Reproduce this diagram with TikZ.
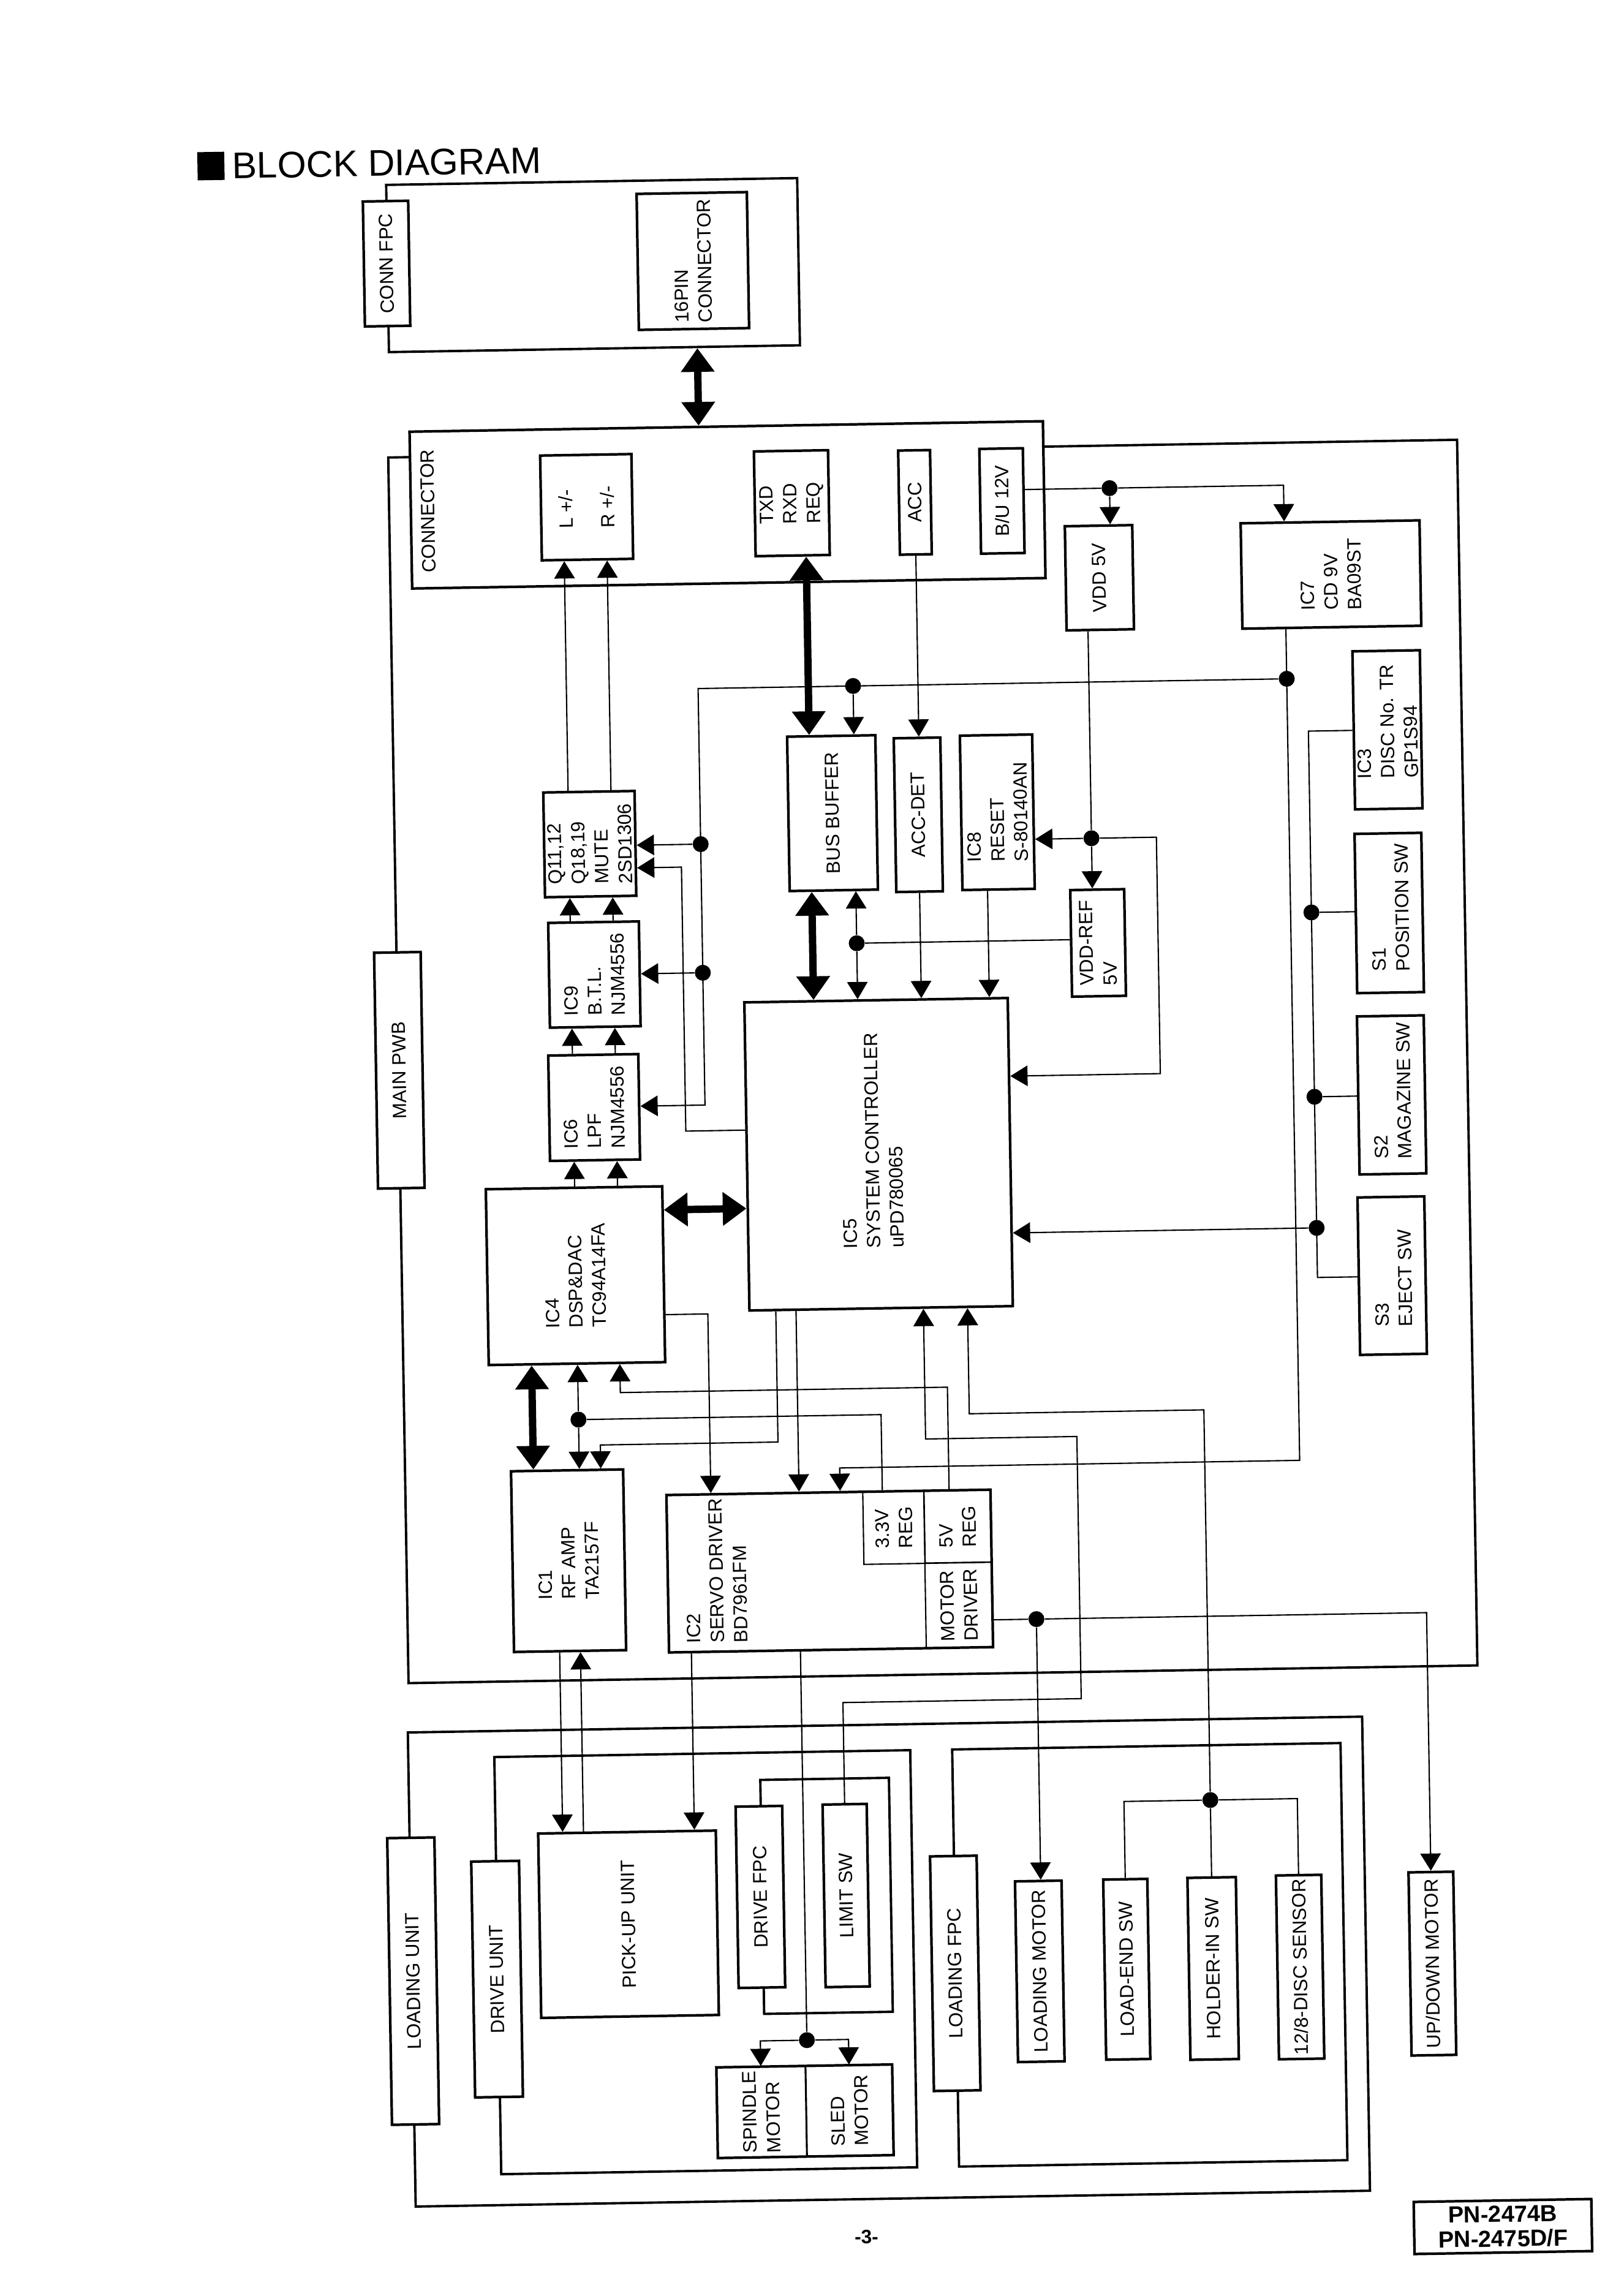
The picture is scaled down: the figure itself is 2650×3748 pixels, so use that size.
\documentclass[tikz,border=0pt]{standalone}
\usepackage{fontspec}
\setmainfont{Liberation Sans}
\usetikzlibrary{arrows.meta}
\newcommand{\boxfont}{\fontsize{8.9pt}{10.9pt}\selectfont}
\tikzset{
	outline/.style 2 args={draw, line width=1.1pt, inner sep=0pt, minimum width=#1*0.01cm, minimum height=#2*0.01cm},
	blk/.style 2 args={draw, fill=white, line width=1.2pt, rotate=90, align=left, inner sep=0pt, minimum width=#2*0.01cm, minimum height=#1*0.01cm},
	cell/.style={fill=none, line width=0.6pt},
	txt/.style={rotate=90, align=left, inner sep=0pt},
	jct/.style={circle, fill=black, inner sep=0pt, minimum size=7.4pt},
	wire/.style={line width=0.6pt},
	sig/.style={line width=0.6pt, -{Triangle[length=8pt,width=9.5pt]}},
	thickbus/.style={line width=3.4pt, {Triangle[length=11pt,width=15pt]}-{Triangle[length=11pt,width=15pt]}}
}
\begin{document}
\begin{tikzpicture}[x=0.01cm, y=-0.01cm, every node/.style={font=\boxfont}]
	\useasboundingbox (0,0) rectangle (2650,3748);
	\begin{scope}[transform canvas={rotate around={0.95:(1325,1874)}}]
		% Draw title
		\node[fill=black, inner sep=0pt, minimum width=44*0.01cm, minimum height=46*0.01cm] (titlemark) at (371,255) {};
		\node[anchor=west, inner sep=0pt, font=\fontsize{17.2pt}{20pt}\selectfont] (title) at (405,255) {BLOCK DIAGRAM};

		% Draw outer frames
		\node[outline={671}{273}] (head) at (992,427) {};
		\node[outline={1745}{2001}] (pwb) at (1525,1736) {};
		\node[outline={1558}{774}] (loadunit) at (1429,3204) {};
		\node[outline={679}{681}] (driveunit) at (1130,3200) {};
		\node[outline={634}{681}] (loadfpc) at (1855,3200) {};
		\node[outline={210}{382}] (fpcloop) at (1329,3095) {};

		% Draw top blocks
		\node[blk={74}{204}] (connfpc) at (655,419) {CONN FPC};
		\node[blk={180}{222}] (pin16) at (1155,423) {16PIN\\CONNECTOR};
		\node[blk={1034}{256}] (conn) at (1205,822) {};
		\node[txt] (conntext) at (716,824) {CONNECTOR};
		\node[blk={149}{171}] (lrout) at (975,822) {L +/-\\[8.4pt]R +/-};
		\node[blk={121}{171}] (serial) at (1310,821) {TXD\\RXD\\REQ};
		\node[blk={52}{170}] (acc) at (1511,823) {ACC};
		\node[blk={71}{171}] (bu) at (1653,823) {B/U 12V};
		\node[blk={110}{170}] (vdd) at (1810,951) {VDD 5V};
		\node[blk={292}{172}] (ic7) at (2188,952) {IC7\\CD 9V\\BA09ST};

		% Draw switches
		\node[blk={110}{258}] (ic3) at (2276,1207) {};
		\node[txt, anchor=west] (ic3text) at (2276,1287) {IC3\\DISC No. TR\\GP1S94};
		\node[blk={109}{260}] (s1) at (2274,1506) {};
		\node[txt, anchor=west] (s1text) at (2276,1602) {S1\\POSITION SW};
		\node[blk={109}{258}] (s2) at (2273,1803) {};
		\node[txt, anchor=west] (s2text) at (2274,1908) {S2\\MAGAZINE SW};
		\node[blk={109}{257}] (s3) at (2269,2098) {};
		\node[txt, anchor=west] (s3text) at (2271,2182) {S3\\EJECT SW};

		% Draw main board blocks
		\node[blk={76}{385}] (mainpwb) at (654,1736) {MAIN PWB};
		\node[blk={144}{252}] (busbuf) at (1368,1328) {BUS BUFFER};
		\node[blk={76}{251}] (accdet) at (1508,1333) {ACC-DET};
		\node[blk={118}{252}] (ic8) at (1637,1331) {IC8\\RESET\\S-80140AN};
		\node[blk={88}{174}] (vddref) at (1798,1547) {VDD-REF\\5V};
		\node[blk={149}{171}] (q) at (971,1372) {Q11,12\\Q18,19\\MUTE\\2SD1306};
		\node[blk={148}{171}] (ic9) at (975,1585) {IC9\\B.T.L.\\NJM4556};
		\node[blk={147}{172}] (ic6) at (971,1802) {IC6\\LPF\\NJM4556};
		\node[blk={288}{287}] (ic4) at (936,2076) {IC4\\DSP\&DAC\\TC94A14FA};
		\node[blk={430}{503}] (ic5) at (1434,1886) {};
		\node[txt, anchor=west] (ic5text) at (1424,2040) {IC5\\SYSTEM CONTROLLER\\uPD780065};
		\node[blk={183}{295}] (ic1) at (917,2541) {IC1\\RF AMP\\TA2157F};
		\node[blk={529}{257}] (ic2) at (1343,2565) {};
		\node[txt, anchor=west] (ic2text) at (1158,2680) {IC2\\SERVO DRIVER\\BD7961FM};
		\node[blk={100}{118}, cell] (reg33) at (1449,2496) {3.3V\\REG};
		\node[blk={109}{118}, cell] (reg5) at (1553,2496) {5V\\REG};
		\node[blk={109}{139}, cell] (motdrv) at (1553,2624) {MOTOR\\DRIVER};

		% Draw bottom blocks
		\node[blk={77}{468}] (loadingunit) at (652,3223) {LOADING UNIT};
		\node[blk={78}{385}] (driveunitbox) at (789,3222) {DRIVE UNIT};
		\node[blk={290}{301}] (pickup) at (1005,3136) {PICK-UP UNIT};
		\node[blk={76}{296}] (drivefpc) at (1221,3095) {DRIVE FPC};
		\node[blk={72}{298}] (limitsw) at (1361,3095) {LIMIT SW};
		\node[blk={287}{148}] (motors) at (1288,3446) {};
		\node[blk={145}{148}, cell] (spindle) at (1217,3446) {SPINDLE\\MOTOR};
		\node[blk={141}{148}, cell] (sled) at (1361,3446) {SLED\\MOTOR};
		\node[blk={76}{383}] (loadingfpc) at (1537,3225) {LOADING FPC};
		\node[blk={76}{295}] (loadingmotor) at (1675,3224) {LOADING MOTOR};
		\node[blk={72}{294}] (loadend) at (1817,3223) {LOAD-END SW};
		\node[blk={79}{297}] (holderin) at (1958,3224) {HOLDER-IN SW};
		\node[blk={74}{300}] (disc) at (2100,3224) {12/8-DISC SENSOR};
		\node[blk={73}{299}] (updown) at (2316,3222) {UP/DOWN MOTOR};

		% Draw junctions
		\node[jct] (jbu) at (1829,805) {};
		\node[jct] (jic7) at (2113,1121) {};
		\node[jct] (jbus) at (1405,1121) {};
		\node[jct] (jq) at (1152,1375) {};
		\node[jct] (jic9) at (1152,1585) {};
		\node[jct] (jvdd) at (1790,1376) {};
		\node[jct] (jref) at (1404,1541) {};
		\node[jct] (js1) at (2147,1503) {};
		\node[jct] (js2) at (2147,1804) {};
		\node[jct] (js3) at (2147,2018) {};
		\node[jct] (jic4) at (937,2311) {};
		\node[jct] (jmot) at (1679,2649) {};
		\node[jct] (jhold) at (1958,2949) {};
		\node[jct] (jmotor) at (1293,3330) {};

		% Draw thick buses
		\draw[thickbus] (1160,0 |- head.south) -- (1160,0 |- conn.east);
		\draw[thickbus] (1332,0 |- serial.west) -- (1332,0 |- busbuf.east);
		\draw[thickbus] (1332,0 |- busbuf.west) -- (1332,0 |- ic5.east);
		\draw[thickbus] (ic4.south |- 0,1971) -- (ic5.north |- 0,1971);
		\draw[thickbus] (862,0 |- ic1.east) -- (862,0 |- ic4.west);

		% Draw audio path
		\draw[sig] (937,0 |- ic4.east) -- (937,0 |- ic6.west);
		\draw[sig] (1007,0 |- ic4.east) -- (1007,0 |- ic6.west);
		\draw[sig] (937,0 |- ic6.east) -- (937,0 |- ic9.west);
		\draw[sig] (1007,0 |- ic6.east) -- (1007,0 |- ic9.west);
		\draw[sig] (937,0 |- ic9.east) -- (937,0 |- q.west);
		\draw[sig] (1007,0 |- ic9.east) -- (1007,0 |- q.west);
		\draw[sig] (937,0 |- q.east) -- (937,0 |- lrout.west);
		\draw[sig] (1007,0 |- q.east) -- (1007,0 |- lrout.west);

		% Draw power and control lines
		\draw[wire] (bu.south |- jbu) -- (jbu);
		\draw[sig] (jbu) -- (jbu |- vdd.east);
		\draw[sig] (jbu) -| (jic7 |- ic7.east);
		\draw[sig] (jic7 |- ic7.west) |- (1362,2397) -- (1362,0 |- ic2.east);
		\draw[sig] (jic7) -- (jq |- jic7) -- (1152,1801) -- (ic6.south |- 0,1801);
		\draw[sig] (jbus) -- (jbus |- busbuf.east);
		\draw[sig] (jq) -- (jq -| q.south);
		\draw[sig] (jic9) -- (jic9 -| ic9.south);
		\draw[sig] (ic5.north |- 0,1843) -| (1120,1412) -- (q.south |- 0,1412);
		\draw[sig] (jref) -- (jref |- busbuf.west);
		\draw[sig] (jref) -- (jref |- ic5.east);
		\draw[wire] (jref) -- (jref -| vddref.north);
		\draw[sig] (acc.west) -- (acc.west |- accdet.east);
		\draw[sig] (accdet.west) -- (accdet.west |- ic5.east);
		\draw[sig] (1619,0 |- ic8.west) -- (1619,0 |- ic5.east);
		\draw[wire] (jvdd |- vdd.west) -- (jvdd);
		\draw[sig] (jvdd) -- (jvdd -| ic8.south);
		\draw[sig] (jvdd) -- (jvdd |- vddref.east);
		\draw[sig] (jvdd) -| (1896,1762) -- (ic5.south |- 0,1762);

		% Draw switch lines
		\draw[wire] (ic3.north) -- (js1 |- ic3.north) -- (js1 |- 0,2099) -- (s3.north |- 0,2099);
		\draw[wire] (js1) -- (js1 -| s1.north);
		\draw[wire] (js2) -- (js2 -| s2.north);
		\draw[sig] (js3) -- (js3 -| ic5.south);

		% Draw servo lines
		\draw[sig] (jic4) -- (jic4 |- ic4.west);
		\draw[sig] (jic4) -- (jic4 |- ic1.east);
		\draw[wire] (jic4) -| (1431,0 |- ic2.east);
		\draw[sig] (1540,0 |- ic2.east) |- (1006,2268) -- (1006,0 |- ic4.west);
		\draw[sig] (1262,0 |- ic5.west) |- (972,2353) -- (972,0 |- ic1.east);
		\draw[sig] (1295,0 |- ic5.west) -- (1295,0 |- ic2.east);
		\draw[sig] (ic4.south |- 0,2142) -| (1151,0 |- ic2.east);

		% Draw lines to the mechanism
		\draw[sig] (limitsw.east) |- (1750,2780) |- (1503,2352) -- (1503,0 |- ic5.west);
		\draw[sig] (jhold) |- (1575,2312) -- (1575,0 |- ic5.west);
		\draw[wire] (loadend.east) |- (jhold);
		\draw[wire] (holderin.east) -- (jhold);
		\draw[wire] (disc.east) |- (jhold);
		\draw[wire] (motdrv.south |- jmot) -- (jmot);
		\draw[sig] (jmot) -| (updown.east);
		\draw[sig] (jmot) -- (jmot |- loadingmotor.east);
		\draw[sig] (900,0 |- ic1.west) -- (900,0 |- pickup.east);
		\draw[sig] (934,0 |- pickup.east) -- (934,0 |- ic1.west);
		\draw[sig] (1115,0 |- ic2.west) -- (1115,0 |- pickup.east);
		\draw[wire] (jmotor |- ic2.west) -- (jmotor);
		\draw[sig] (jmotor) -| (spindle.east);
		\draw[sig] (jmotor) -| (sled.east);

		% Draw footer
		\node[inner sep=0pt, font=\fontsize{9pt}{11pt}\selectfont\bfseries] (pagenum) at (1385,3653) {-3-};
		\node[draw, line width=1.2pt, align=center, inner sep=0pt, minimum width=290*0.01cm, minimum height=85*0.01cm, font=\fontsize{10.8pt}{11.4pt}\selectfont\bfseries] (model) at (2424,3653) {PN-2474B\\PN-2475D/F};
	\end{scope}
\end{tikzpicture}
\end{document}
